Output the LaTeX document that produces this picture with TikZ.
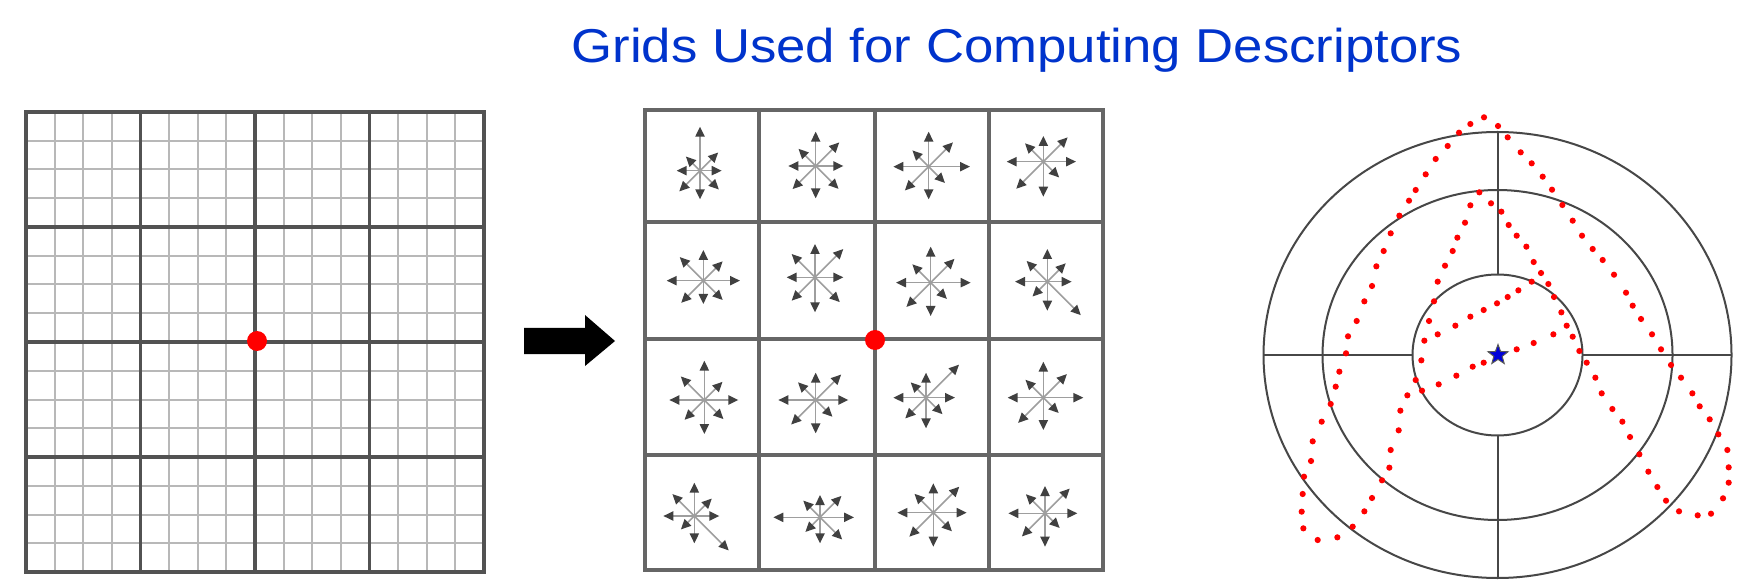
\documentclass[tikz,border=0pt]{standalone}
\usepackage{fontspec}
\setmainfont{Liberation Sans}
\usetikzlibrary{arrows.meta,shapes.geometric}
\definecolor{titleblue}{RGB}{0,51,204}
\newcommand\hist[3]{%
  \foreach \l [count=\i from 0] in {#3}
    \draw[harrow] ({640+#1/3},{100+#2/3}) -- ++({-\i*45}:{\l/3});
}
\begin{document}
\begin{tikzpicture}[x=0.5pt,y=-0.5pt,
  thingrid/.style={draw=black!28,line width=1pt},
  thickgrid/.style={draw=black!68,line width=1.6pt},
  midgrid/.style={draw=black!60,line width=2pt},
  harrow/.style={draw=black!38,line width=0.8pt,-{Triangle[length=5pt,width=4.6pt,color=black!75]}},
  circ/.style={draw=black!72,line width=1pt},
  reddot/.style={fill=red},
  titletext/.style={text=titleblue,font=\fontsize{23.75}{28}\selectfont,inner sep=0pt}]
\useasboundingbox (0,0) rectangle (1743,587);
\fill[white] (0,0) rectangle (1743,587);

% title
\node[titletext,anchor=base] (title) at (1017,63) {\scalebox{1.11}[1]{Grids Used for Computing Descriptors}};

% left grid
\foreach \k in {1,...,15} {
  \draw[thingrid] ({26+\k*28.625},112) -- ({26+\k*28.625},572);
  \draw[thingrid] (26,{112+\k*28.75}) -- (484,{112+\k*28.75});
}
\foreach \k in {1,2,3} {
  \draw[thickgrid] ({26+\k*114.5},112) -- ({26+\k*114.5},572);
  \draw[thickgrid] (26,{112+\k*115}) -- (484,{112+\k*115});
}
\draw[thickgrid] (26,112) rectangle (484,572);
\fill[reddot] (257,341) circle[radius=5pt];

% big arrow
\fill[black] (524,328) -- (585,328) -- (585,315) -- (615,341) -- (585,366) -- (585,354) -- (524,354) -- cycle;

% middle grid
\foreach \xx in {759,875,989} \draw[midgrid] (\xx,110) -- (\xx,570);
\foreach \yy in {222,339,455} \draw[midgrid] (645,\yy) -- (1103,\yy);
\draw[midgrid] (645,110) rectangle (1103,570);

% histograms: E, NE, N, NW, W, SW, S, SE
\hist{180}{212}{65,77,132,60,70,88,86,80}
\hist{527}{198}{83,100,103,73,82,98,97,97}
\hist{866}{200}{124,103,105,69,106,101,98,69}
\hist{1210}{185}{98,103,77,78,110,115,105,67}
\hist{190}{542}{110,82,92,100,110,94,70,82}
\hist{525}{532}{85,120,100,99,85,99,105,105}
\hist{872}{548}{120,101,108,78,104,103,100,69}
\hist{1222}{545}{73,78,98,88,97,63,87,142}
\hist{193}{900}{102,77,118,100,105,84,102,81}
\hist{527}{900}{98,108,82,75,112,104,100,71}
\hist{858}{893}{87,140,75,65,98,88,92,70}
\hist{1210}{893}{120,100,108,76,107,107,97,65}
\hist{163}{1248}{75,74,100,93,93,57,82,146}
\hist{540}{1252}{102,91,67,71,140,62,78,94}
\hist{880}{1238}{100,110,88,80,108,102,102,79}
\hist{1215}{1240}{97,105,82,81,110,98,100,62}

\fill[reddot] (875,340) circle[radius=5pt];

% polar grid
\draw[circ] (1497.5,355) ellipse[x radius=234, y radius=223];
\draw[circ] (1497.5,355) ellipse[x radius=175, y radius=165];
\draw[circ] (1497.5,355) ellipse[x radius=85, y radius=80.5];
\draw[circ] (1263.5,355) -- (1412.5,355);
\draw[circ] (1582.5,355) -- (1731.5,355);
\draw[circ] (1497.5,132) -- (1497.5,274.5);
\draw[circ] (1497.5,435.5) -- (1497.5,578);

% red dots
\foreach \a/\b in {160/1285,155/1235,158/1182,162/1130,183/1083,188/1024,215/965,242/912,257/860,268/815,288/760,294/709,320/663,343/604,366/558,379/499,401/453,422/400,448/347,477/302,497/270,527/223,557/177,593/138,627/98,661/72,702/52,744/78,773/112,812/157,845/190,878/230,906/269,937/315,968/362,996/407,1028/447,1058/480,1092/524,1128/578,1148/617,1173/657,1206/703,1233/748,1263/795,1293/833,1327/880,1349/919,1379/958,1405/1003,1432/1050,1436/1102,1436/1148,1419/1195,1383/1241,1343/1246,1287/1234,1248/1202,1222/1161,1195/1115,1168/1063,1140/1011,1117/965,1087/927,1055/880,1036/833,1010/788,988/753,968/710,950/677,934/637,912/591,895/552,873/519,851/486,829/440,800/407,776/375,754/335,723/310,688/277,661/316,645/368,622/413,608/453,585/497,563/545,552/604,537/663,523/722,514/781,497/840,472/886,451/932,446/991,422/1050,418/1103,396/1141,366/1194,343/1234,308/1280,262/1312,203/1320,
563/703,616/677,661/650,701/630,741/610,773/591,805/571,845/545,
516/872,566/853,619/827,668/800,701/788,800/748,851/729,910/703}
  \fill[reddot] ({1250+\a/3},{100+\b/3}) circle[radius=1.55pt];

\node[star,star points=5,star point ratio=2.4,fill=blue!85!black,draw=black!65,line width=0.5pt,inner sep=0pt,minimum size=10.5pt] (centerstar) at (1498,355) {};
\end{tikzpicture}
\end{document}
